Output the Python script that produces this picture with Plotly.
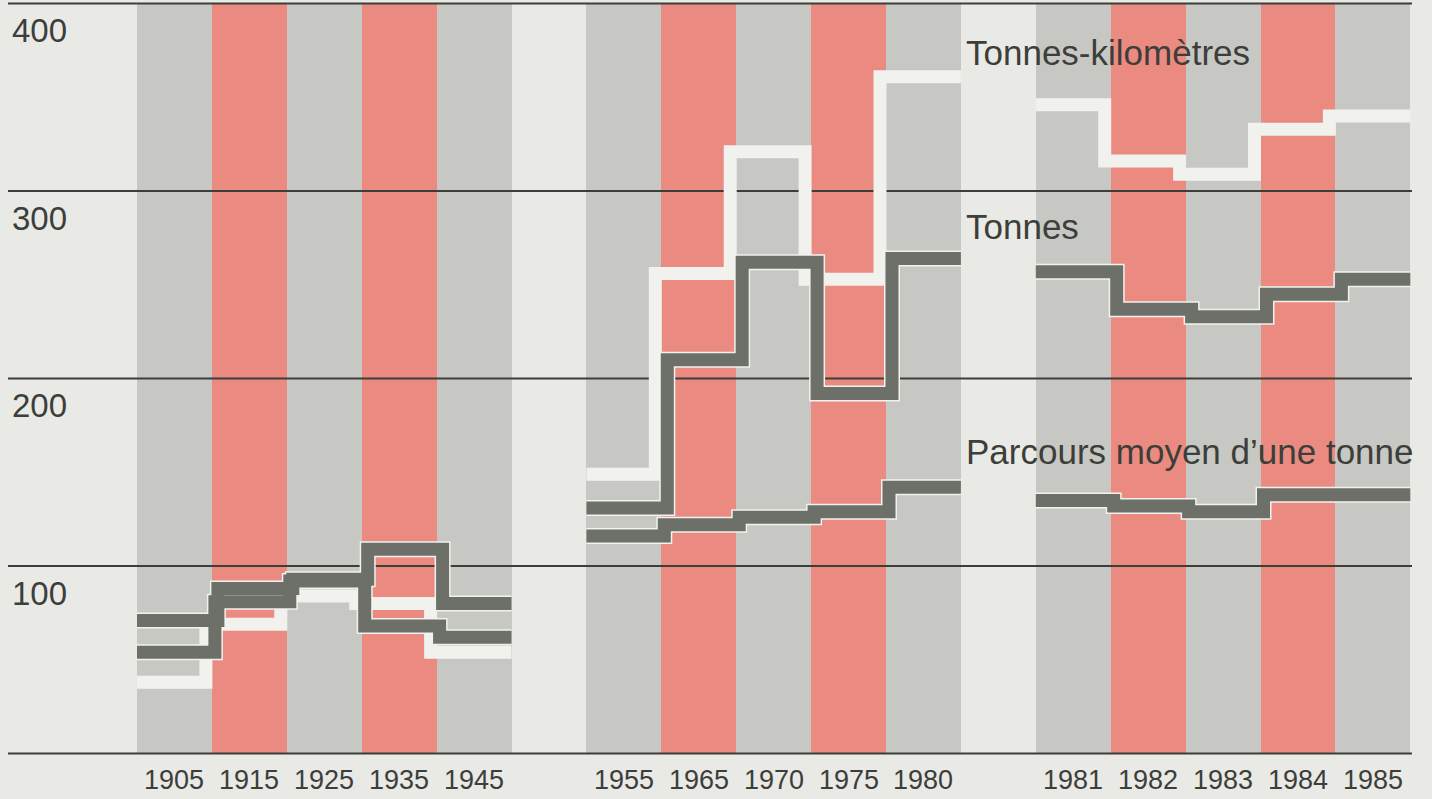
import plotly.graph_objects as go

# ---------------- data ----------------
years = ["1905", "1915", "1925", "1935", "1945",
         "1955", "1965", "1970", "1975", "1980",
         "1981", "1982", "1983", "1984", "1985"]
tonnes_km = [38, 69, 84, 80, 54, 149, 256, 321, 253, 361, 346, 316, 309, 333, 340]
tonnes = [71, 88, 93, 109, 80, 131, 210, 262, 192, 264, 257, 237, 233, 245, 253]
parcours = [54, 81, 92, 68, 62, 116, 122, 126, 129, 142, 135, 132, 129, 138, 138]
y_ticks = [0, 100, 200, 300, 400]
y_tick_labels = ["", "100", "200", "300", "400"]
series_names = ["Tonnes-kilomètres", "Tonnes", "Parcours moyen d’une tonne"]

# ---------------- style / layout ----------------
W, H = 1432, 799
GROUP = 5
COL_TOP = 400
PX0, SLOT_PX = 137, 74.9          # pixel of slot 0, width of one slot
Y0_PX, UNIT_PX = 753.5, 1.875     # pixel of value 0, pixels per unit

BG = "#e9eae6"
GRAY = "#c7c8c3"
RED = "#eb8a81"
LIGHT = "#f1f2ee"
DARK = "#6d7069"
GRID = "#3c3e3a"
TEXT = "#3c3e3a"
FONT = "Liberation Sans, Arial, sans-serif"

x_range = [-PX0 / SLOT_PX, (W - PX0) / SLOT_PX]
y_range = [(Y0_PX - H) / UNIT_PX, Y0_PX / UNIT_PX]
GRID_X = [(8 - PX0) / SLOT_PX, (1412 - PX0) / SLOT_PX]

n = len(years)
slots = [i + i // GROUP for i in range(n)]


def step_path(vals, off):
    xs, ys = [], []
    for g in range(0, n, GROUP):
        idx = list(range(g, min(g + GROUP, n)))
        for k, i in enumerate(idx):
            s = slots[i]
            x0 = s if k == 0 else s + off
            x1 = s + 1 if k == len(idx) - 1 else s + 1 + off
            xs += [x0, x1]
            ys += [vals[i], vals[i]]
        xs.append(None)
        ys.append(None)
    return xs, ys


fig = go.Figure()

# background columns
fig.add_trace(go.Bar(
    x=[s + 0.5 for s in slots], y=[COL_TOP] * n, width=1,
    marker=dict(color=[RED if (i % GROUP) % 2 else GRAY for i in range(n)], line_width=0),
    hoverinfo="skip", showlegend=False))

# grid lines
for t in y_ticks:
    fig.add_trace(go.Scatter(x=GRID_X, y=[t, t], mode="lines",
                             line=dict(color=GRID, width=2),
                             hoverinfo="skip", showlegend=False))

LW = 13
# tonnes-km (light line)
xs, ys = step_path(tonnes_km, -0.08)
fig.add_trace(go.Scatter(x=xs, y=ys, mode="lines", name=series_names[0],
                         line=dict(color=LIGHT, width=LW), showlegend=False))

# halos for dark lines
paths = [step_path(tonnes, 0.08), step_path(parcours, 0.04)]
for xs, ys in paths:
    fig.add_trace(go.Scatter(x=xs, y=ys, mode="lines", line=dict(color=LIGHT, width=LW + 3),
                             hoverinfo="skip", showlegend=False))
for (xs, ys), name in zip(paths, series_names[1:]):
    fig.add_trace(go.Scatter(x=xs, y=ys, mode="lines", name=name,
                             line=dict(color=DARK, width=LW), showlegend=False))

ann = []
for t, lab in zip(y_ticks, y_tick_labels):
    if lab:
        ann.append(dict(x=(10 - PX0) / SLOT_PX, y=t, xref="x", yref="y", text=lab,
                        showarrow=False, xanchor="left", yanchor="middle", yshift=-27,
                        font=dict(size=33, color=TEXT, family=FONT)))
for s, yr in zip(slots, years):
    ann.append(dict(x=s + 0.5, y=0, xref="x", yref="y", text=yr, showarrow=False,
                    xanchor="center", yanchor="middle", yshift=-26,
                    font=dict(size=27, color=TEXT, family=FONT)))
label_x = (964 - PX0) / SLOT_PX
for name, yv in zip(series_names, [374, 281, 161]):
    ann.append(dict(x=label_x, y=yv, xref="x", yref="y", text=name, showarrow=False,
                    xanchor="left", yanchor="middle",
                    font=dict(size=35, color=TEXT, family=FONT)))

fig.update_layout(
    width=W, height=H, margin=dict(l=0, r=0, t=0, b=0),
    paper_bgcolor=BG, plot_bgcolor=BG, bargap=0,
    xaxis=dict(range=x_range, visible=False, fixedrange=True),
    yaxis=dict(range=y_range, visible=False, fixedrange=True),
    annotations=ann, showlegend=False,
)

fig.write_html(
    "out.html",
    config={"displayModeBar": False},
    post_script="document.body.style.margin='0';document.body.style.overflow='hidden';"
                "document.body.style.background='" + BG + "';",
)
